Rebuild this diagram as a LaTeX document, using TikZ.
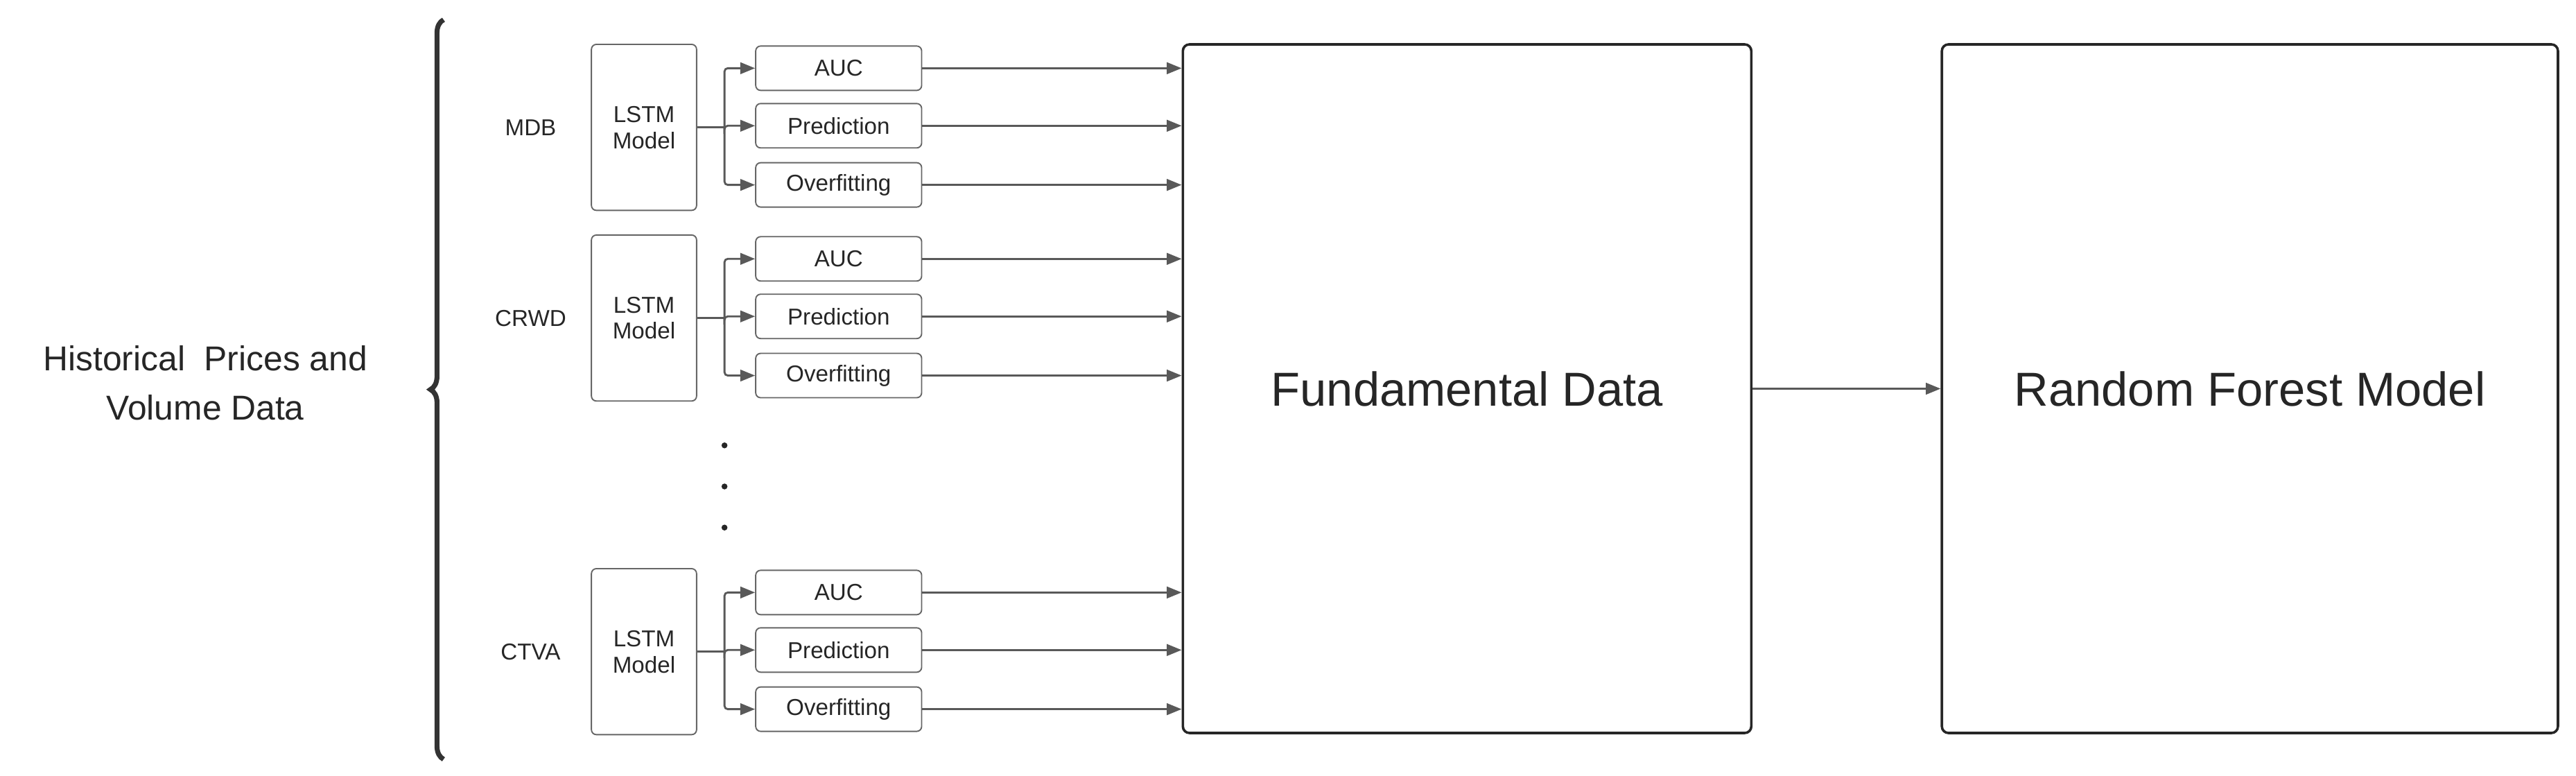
\documentclass[tikz,border=0pt]{standalone}
\usepackage{fontspec}
\setmainfont{Liberation Sans}
\usetikzlibrary{arrows.meta,positioning,decorations.pathreplacing}

\begin{document}
\begin{tikzpicture}[x=1pt,y=-1pt,
	lstm/.style={draw=black!60,line width=0.8pt,rounded corners=3pt,minimum width=64pt,minimum height=101pt,align=center,font=\fontsize{14}{16}\selectfont,text=black!85},
	mbox/.style={draw=black!60,line width=0.8pt,rounded corners=3pt,minimum width=101pt,minimum height=27pt,font=\fontsize{14}{16}\selectfont,text=black!85},
	big/.style={draw=black!85,line width=1.5pt,rounded corners=4pt,minimum height=419pt,font=\fontsize{29}{34}\selectfont,text=black!85},
	flow/.style={draw=black!65,line width=1.2pt,-{Triangle[length=9pt,width=7pt]}}]
		\useasboundingbox (0,0) rectangle (1568,472);

		%Venstre side
		\draw [line width=3pt,black!80,decorate,decoration={brace,amplitude=8pt}] (270,462) -- (270,12);
		\node (hist) [align=center,font=\fontsize{21}{30}\selectfont,text=black!85] at (125,233) {Historical\ \ Prices and\\Volume Data};

		%Store bokser
		\node (fund) [big,minimum width=346pt] at (893,236.5) {Fundamental Data};
		\node (rf) [big,minimum width=375pt] at (1369.5,236.5) {Random Forest Model};
		\draw [flow] (fund) -- (rf);

		%LSTM grupper
		\foreach \n/\tk/\y in {a/MDB/77.5, b/CRWD/193.5, c/CTVA/396.5}{
			\node (tk\n) [font=\fontsize{14}{16}\selectfont,text=black!85] at (323,\y) {\tk};
			\node (lstm\n) [lstm] at (392,\y) {LSTM\\Model};
			\coordinate (fork\n) at (441,\y);
			\node (auc\n) [mbox] at (510.5,\y-36) {AUC};
			\node (pred\n) [mbox] at (510.5,\y-1) {Prediction};
			\node (over\n) [mbox] at (510.5,\y+35) {Overfitting};
			\draw [black!65,line width=1.2pt] (lstm\n) -- (fork\n);
			\foreach \m in {auc,pred,over}{
				\draw [flow,rounded corners=2pt] (fork\n) |- (\m\n);
				\draw [flow] (\m\n) -- (\m\n -| fund.west);
			}
		}

		%Prikker
		\foreach \d in {271,296,321}
			\fill [black!85] (441,\d) circle (1.8pt);
	\end{tikzpicture}
\end{document}
